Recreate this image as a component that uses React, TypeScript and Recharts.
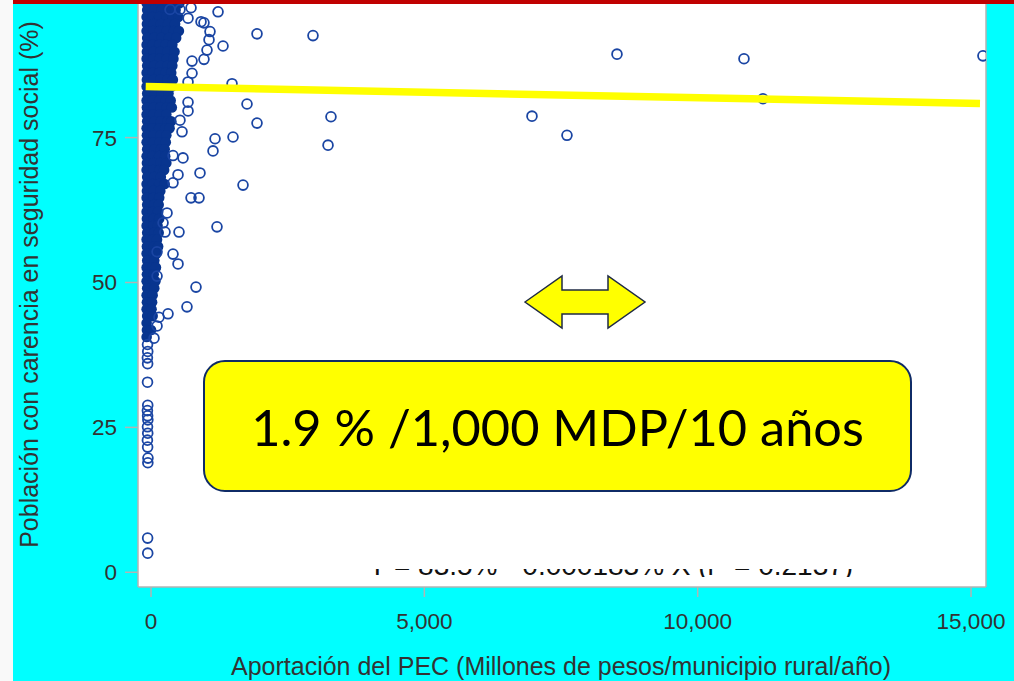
import React from "react";
import { ScatterChart, Scatter, XAxis, YAxis, CartesianGrid, ReferenceLine } from "recharts";

const xTicks = [0, 5000, 10000, 15000];
const yTicks = [0, 25, 50, 75];

// the solid mass of municipalities near x = 0, one row per height: [y, ...x]
const coreRows: number[][] = [
  [98.2, -80, 40, 170, 300, 420, 520],
  [97.0, -70, 60, 190, 320, 450],
  [95.8, -80, 30, 150, 280, 400, 500],
  [94.6, -75, 50, 180, 310, 440],
  [93.4, -80, 40, 160, 290, 420, 510],
  [92.2, -70, 60, 190, 330, 460],
  [91.0, -80, 30, 150, 270, 390],
  [89.8, -75, 50, 170, 300, 430],
  [88.6, -80, 40, 160, 290, 410],
  [87.4, -70, 60, 180, 300, 390],
  [86.2, -80, 30, 150, 270, 370],
  [85.0, -75, 50, 170, 300, 400],
  [83.8, -80, 40, 160, 280, 380],
  [82.6, -70, 60, 190, 320],
  [81.4, -80, 30, 150, 270, 360],
  [80.2, -75, 50, 170, 290, 380],
  [79.0, -80, 40, 160, 280],
  [77.8, -70, 60, 180, 300, 370],
  [76.6, -80, 30, 150, 260, 340],
  [75.4, -75, 50, 170, 280],
  [74.2, -80, 40, 160, 270],
  [73.0, -70, 60, 180, 250],
  [71.8, -80, 30, 150, 260],
  [70.6, -75, 50, 170, 280],
  [69.4, -80, 40, 160, 240],
  [68.2, -70, 60, 180],
  [67.0, -80, 30, 150, 250],
  [65.8, -75, 50, 170],
  [64.6, -80, 40, 150],
  [63.4, -70, 60, 140],
  [62.2, -80, 30, 130],
  [61.0, -75, 50, 150],
  [59.8, -80, 40, 120],
  [58.6, -70, 60, 140],
  [57.4, -80, 30, 110],
  [56.2, -75, 50, 130],
  [55.0, -80, 40, 100],
  [53.8, -70, 60],
  [52.6, -80, 30, 90],
  [51.4, -75, 50],
  [50.2, -80, 40, 80],
  [49.0, -70, 60],
  [47.8, -80, 30],
  [46.6, -75, 20],
  [45.4, -80, 10],
  [44.2, -70, 30],
  [43.0, -80],
  [41.8, -75, 0],
  [40.6, -80],
];

// individual municipalities outside the mass: [x, y]
const sparsePoints: [number, number][] = [
  [2963, 92.6], [3292, 78.6], [3238, 73.7], [6969, 78.7], [7609, 75.4],
  [8524, 89.4], [10847, 88.6], [11194, 81.7], [15218, 89.1],
  [1939, 92.9], [1226, 96.7], [1482, 84.3], [1756, 80.8], [1939, 77.5],
  [1500, 75.1], [1171, 74.8], [1134, 72.7], [1683, 66.8], [896, 68.9],
  [732, 64.6], [878, 64.6], [1207, 59.6], [823, 49.2], [658, 45.8],
  [512, 58.7], [585, 71.5], [494, 68.6], [402, 67.2], [293, 62.0],
  [220, 60.3], [256, 58.7], [402, 54.9], [110, 55.3], [494, 53.2],
  [110, 51.1], [311, 44.6], [146, 44.0], [110, 42.5], [55, 40.4],
  [915, 95.0], [969, 94.8], [1079, 93.3], [1061, 91.9], [1317, 90.8],
  [1024, 90.1], [969, 88.5], [750, 88.2], [750, 86.1], [677, 84.6],
  [677, 81.1], [677, 79.6], [567, 76.0], [530, 78.0], [732, 97.4],
  [530, 97.1], [348, 97.1], [677, 95.6], [402, 71.9],
  [-64, 39.3], [-60, 38.1], [-66, 37.0], [-62, 36.0], [-64, 32.8],
  [-60, 28.8], [-66, 27.9], [-62, 27.0], [-58, 26.3], [-64, 25.1],
  [-60, 24.0], [-66, 22.8], [-62, 21.6], [-56, 19.7], [-58, 18.9],
  [-62, 5.9], [-60, 3.3],
];

// fitted regression line
const fitX = [-97, 15164];
const fitY = [83.8, 80.9];

const coreData = coreRows.flatMap(([y, ...xs]) => xs.map((x) => ({ x, y })));
const sparseData = sparsePoints.map(([x, y]) => ({ x, y }));
const fitData = fitX.map((x, i) => ({ x, y: fitY[i] }));

const FONT = "'Liberation Sans', Arial, sans-serif";
const TEXT = "#333333";
const FRAME = "#b3b3b3";

const HollowDot = (p: any) => (
  <circle cx={p.cx} cy={p.cy} r={4.9} fill="none" stroke="#1a45a3" strokeWidth={1.8} />
);
const CoreDot = (p: any) => <circle cx={p.cx} cy={p.cy} r={5.3} fill="#08358f" />;

const YTitle = (p: any) => {
  const cx = 29;
  const cy = (p.viewBox?.y ?? 0) + (p.viewBox?.height ?? 587) / 2 - 9;
  return (
    <text
      x={cx}
      y={cy}
      transform={`rotate(-90, ${cx}, ${cy})`}
      textAnchor="middle"
      dominantBaseline="central"
      fontSize={25}
      fontFamily={FONT}
      fill={TEXT}
    >
      Población con carencia en seguridad social (%)
    </text>
  );
};

const XTitle = (p: any) => {
  const vb = p.viewBox ?? { x: 138, width: 848 };
  return (
    <text x={vb.x + vb.width / 2 - 1} y={675} textAnchor="middle" fontSize={25} fontFamily={FONT} fill={TEXT}>
      Aportación del PEC (Millones de pesos/municipio rural/año)
    </text>
  );
};

export default function App() {
  return (
    <div style={{ position: "absolute", left: 0, top: 0, width: 1014, height: 681, overflow: "hidden", background: "#f9f9f9" }}>
      <div style={{ position: "absolute", left: 13, top: 0, width: 1001, height: 681, background: "#00ffff" }} />

      <div style={{ position: "absolute", left: 0, top: 0 }}>
        <ScatterChart width={1014} height={681} margin={{ top: 0, right: 28, bottom: 0, left: 13 }}>
          <CartesianGrid fill="#ffffff" horizontal={false} vertical={false} />
          <XAxis
            type="number"
            dataKey="x"
            domain={[-238, 15274]}
            allowDataOverflow
            ticks={xTicks}
            tickFormatter={(v: number) => v.toLocaleString("en-US")}
            height={94}
            axisLine={{ stroke: FRAME, strokeWidth: 1.5 }}
            tickLine={{ stroke: FRAME, strokeWidth: 1.5 }}
            tickSize={10}
            tickMargin={16}
            tick={{ fill: TEXT, fontSize: 22.5, fontFamily: FONT }}
            label={XTitle}
          />
          <YAxis
            type="number"
            dataKey="y"
            domain={[-2.54, 98.74]}
            allowDataOverflow
            ticks={yTicks}
            width={125}
            axisLine={{ stroke: FRAME, strokeWidth: 1.5 }}
            tickLine={{ stroke: FRAME, strokeWidth: 1.5 }}
            tickSize={13}
            tickMargin={8}
            tick={{ fill: TEXT, fontSize: 22.5, fontFamily: FONT }}
            label={YTitle}
          />
          <ReferenceLine x={15274} stroke={FRAME} strokeWidth={1.5} />
          <Scatter data={coreData} shape={CoreDot} isAnimationActive={false} />
          <Scatter data={sparseData} shape={HollowDot} isAnimationActive={false} />
          <Scatter
            data={fitData}
            shape={() => <g />}
            line={{ stroke: "#ffff00", strokeWidth: 7.5 }}
            isAnimationActive={false}
          />
        </ScatterChart>
      </div>

      <svg width={1014} height={681} style={{ position: "absolute", left: 0, top: 0, pointerEvents: "none" }}>
        <defs>
          <clipPath id="eqClip">
            <rect x={360} y={569} width={500} height={8} />
          </clipPath>
        </defs>
        <text x={368} y={575} clipPath="url(#eqClip)" fontSize={28} fontFamily={FONT} fill="#111">
          Y = 83.5% - 0.000183% X (r² = 0.2137)
        </text>
        <path
          d="M525,302 L562,276 L562,290 L608,290 L608,276 L645,302 L608,328 L608,314 L562,314 L562,328 Z"
          fill="#ffff00"
          stroke="#1f2a44"
          strokeWidth={1.5}
          strokeLinejoin="miter"
        />
      </svg>

      <div
        style={{
          position: "absolute",
          left: 203,
          top: 360,
          width: 709,
          height: 132,
          boxSizing: "border-box",
          background: "#ffff00",
          border: "2.5px solid #0f2b66",
          borderRadius: 22,
          display: "flex",
          alignItems: "center",
          justifyContent: "center",
          fontFamily: "Lato, 'Open Sans', sans-serif",
          fontSize: 50.5,
          color: "#000",
        }}
      >
        1.9 % /1,000 MDP/10 años
      </div>

      <div style={{ position: "absolute", left: 13, top: 0, width: 1001, height: 4, background: "#c00000" }} />
    </div>
  );
}
